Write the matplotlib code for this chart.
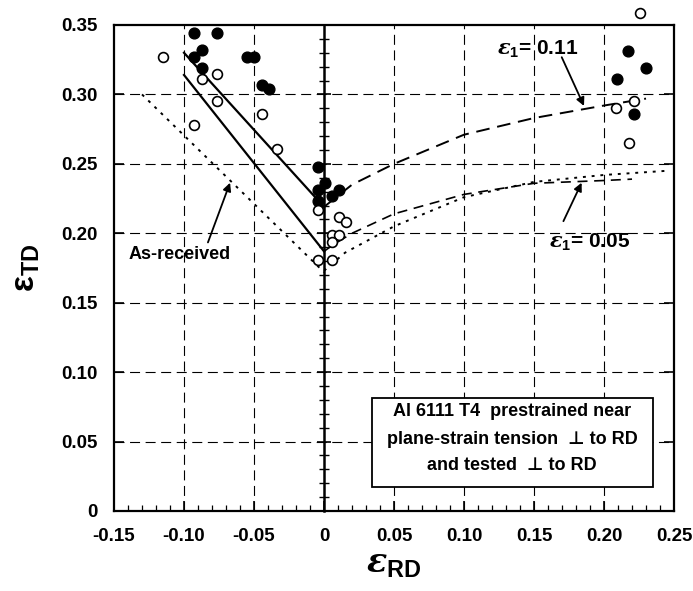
import matplotlib
matplotlib.use("Agg")
import matplotlib.pyplot as plt
from matplotlib.ticker import MultipleLocator
from matplotlib.patches import Rectangle

plt.rcParams['font.family'] = ['Liberation Sans', 'DejaVu Sans']
plt.rcParams['font.weight'] = 'bold'
plt.rcParams['mathtext.fontset'] = 'custom'
plt.rcParams['mathtext.rm'] = 'Liberation Sans:bold'
plt.rcParams['mathtext.bf'] = 'Liberation Sans:bold'
plt.rcParams['mathtext.it'] = 'DejaVu Serif:italic:bold'

# filled symbols
fill_x = [-0.0926, -0.0767, -0.0869, -0.0926, -0.0869, -0.0552, -0.0501, -0.0445, -0.0393,
          -0.004, 0.0007, -0.004, 0.011, 0.006, -0.004,
          0.2174, 0.2298, 0.2095, 0.2214]
fill_y = [0.344, 0.344, 0.332, 0.327, 0.319, 0.327, 0.327, 0.307, 0.304,
          0.248, 0.236, 0.231, 0.231, 0.227, 0.223,
          0.331, 0.319, 0.311, 0.286]

# open symbols
open_x = [-0.1148, -0.0767, -0.0874, -0.0767, -0.0926, -0.0445, -0.0338,
          -0.004, 0.011, 0.0157, 0.0055, 0.011, 0.0055, -0.004, 0.006,
          0.2257, 0.2086, 0.2214, 0.2179]
open_y = [0.327, 0.315, 0.311, 0.295, 0.278, 0.286, 0.261,
          0.217, 0.212, 0.208, 0.199, 0.199, 0.194, 0.181, 0.181,
          0.359, 0.290, 0.295, 0.265]

# yield locus curves
upper_x = [-0.10, 0.0]
upper_y = [0.330, 0.219]
lower_x = [-0.10, 0.0]
lower_y = [0.314, 0.187]
asrec_left_x = [-0.13, 0.0]
asrec_left_y = [0.300, 0.172]

e011_x = [0.0, 0.02, 0.05, 0.10, 0.15, 0.20, 0.23]
e011_y = [0.219, 0.235, 0.250, 0.271, 0.283, 0.292, 0.297]
e005_x = [0.0, 0.007, 0.02, 0.05, 0.10, 0.15, 0.20, 0.22]
e005_y = [0.187, 0.192, 0.200, 0.214, 0.228, 0.236, 0.238, 0.239]
asrec_right_x = [0.0, 0.015, 0.05, 0.10, 0.15, 0.20, 0.245]
asrec_right_y = [0.173, 0.186, 0.205, 0.226, 0.237, 0.242, 0.245]

fig = plt.figure(figsize=(6.93, 5.91), dpi=100)
ax = fig.add_axes([0.1645, 0.1354, 0.8081, 0.8223])

ax.set_xlim(-0.15, 0.25)
ax.set_ylim(0, 0.35)

# dashed grid
grid_x = [-0.10, -0.05, 0.05, 0.10, 0.15, 0.20]
grid_y = [0.05, 0.10, 0.15, 0.20, 0.25, 0.30]
for gx in grid_x:
    ax.axvline(gx, color='black', lw=0.8, ls=(0, (9, 5)), zorder=1)
for gy in grid_y:
    ax.axhline(gy, color='black', lw=0.8, ls=(0, (9, 5)), zorder=1)

ax.plot(upper_x, upper_y, color='black', lw=1.6, zorder=3)
ax.plot(lower_x, lower_y, color='black', lw=1.6, zorder=3)
ax.plot(asrec_left_x, asrec_left_y, color='black', lw=1.4, ls=(0, (1.5, 3)), zorder=3)
ax.plot(asrec_right_x, asrec_right_y, color='black', lw=1.4, ls=(0, (1.5, 3)), zorder=3)
ax.plot(e011_x, e011_y, color='black', lw=1.4, ls=(0, (7, 4)), zorder=3)
ax.plot(e005_x, e005_y, color='black', lw=1.2, ls=(0, (6, 4)), zorder=3)

ax.scatter(fill_x, fill_y, s=60, c='black', edgecolors='black', zorder=5, clip_on=False)
ax.scatter(open_x, open_y, s=50, facecolors='white', edgecolors='black', linewidths=1.2,
           zorder=5, clip_on=False)

# zero line with ticks
sec = ax.secondary_yaxis(0.375)
sec.spines['left'].set_linewidth(1.8)
sec.yaxis.set_major_locator(MultipleLocator(0.05))
sec.yaxis.set_minor_locator(MultipleLocator(0.01))
sec.tick_params(which='major', direction='inout', length=10, width=1.2, labelleft=False)
sec.tick_params(which='minor', direction='inout', length=7, width=1.0)

# axes ticks
ax.xaxis.set_major_locator(MultipleLocator(0.05))
ax.xaxis.set_minor_locator(MultipleLocator(0.01))
ax.yaxis.set_major_locator(MultipleLocator(0.05))
ax.tick_params(which='major', direction='in', length=7, width=1.2, labelsize=13.5,
               right=True, top=False, pad=12)
ax.tick_params(which='minor', direction='in', length=4, width=0.9, left=False)
for sp in ax.spines.values():
    sp.set_linewidth(1.6)

xt = [-0.15, -0.10, -0.05, 0, 0.05, 0.10, 0.15, 0.20, 0.25]
ax.set_xticks(xt)
ax.set_xticklabels(['-0.15', '-0.10', '-0.05', '0', '0.05', '0.10', '0.15', '0.20', '0.25'])
yt = [0, 0.05, 0.10, 0.15, 0.20, 0.25, 0.30, 0.35]
ax.set_yticks(yt)
ax.set_yticklabels(['0', '0.05', '0.10', '0.15', '0.20', '0.25', '0.30', '0.35'])
for lab in ax.get_xticklabels() + ax.get_yticklabels():
    lab.set_fontweight('bold')

ax.set_xlabel(r'$\varepsilon_{\mathbf{RD}}$', fontsize=24, labelpad=3)
ax.set_ylabel(r'$\mathrm{\varepsilon}_{\mathbf{TD}}$', fontsize=24, labelpad=14)

# annotations
arrow = dict(arrowstyle='-|>', color='black', lw=1.3, mutation_scale=12, shrinkA=0, shrinkB=0)
ax.text(0.1529, 0.3326, r'$\varepsilon_{\mathbf{1}}$= 0.11', ha='center', va='center',
        fontsize=15, fontweight='bold')
ax.annotate('', xy=(0.1857, 0.2917), xytext=(0.1698, 0.3268), arrowprops=arrow)
ax.text(0.19, 0.1934, r'$\varepsilon_{\mathbf{1}}$= 0.05', ha='center', va='center',
        fontsize=15, fontweight='bold')
ax.annotate('', xy=(0.184, 0.2364), xytext=(0.171, 0.2087), arrowprops=arrow)
ax.text(-0.1029, 0.1847, 'As-received', ha='center', va='center', fontsize=13,
        fontweight='bold')
ax.annotate('', xy=(-0.0671, 0.2364), xytext=(-0.0829, 0.1934), arrowprops=arrow)

# info box
ax.add_patch(Rectangle((0.4607, 0.05), 0.5013, 0.1825, transform=ax.transAxes,
                       facecolor='white', edgecolor='black', lw=1.3, zorder=6))
box_lines = ['Al 6111 T4  prestrained near', 'plane-strain tension  \u22a5 to RD',
             'and tested  \u22a5 to RD']
for line, yy in zip(box_lines, [0.2043, 0.1475, 0.0926]):
    ax.text(0.711, yy, line, transform=ax.transAxes, ha='center', va='center',
            fontsize=13, fontweight='bold', zorder=7)

fig.savefig('out.png', dpi=100)
